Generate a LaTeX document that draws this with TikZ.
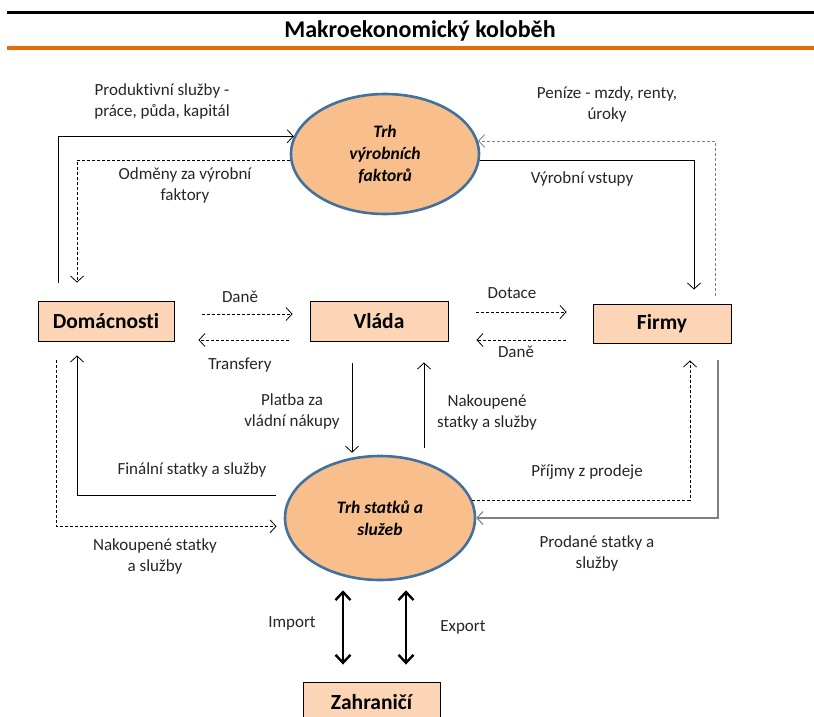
\documentclass[tikz,border=0pt]{standalone}
\usepackage{fontspec}
\setmainfont[Ligatures=NoCommon]{Carlito}
\usepackage{tikz}
\usetikzlibrary{arrows,arrows.meta,positioning,shapes.geometric}
\definecolor{boxfill}{HTML}{FBD5B5}
\definecolor{trhfill}{HTML}{F8BE8C}
\definecolor{trhline}{HTML}{41719C}
\definecolor{rulecol}{HTML}{E36C09}

\tikzset{
	box/.style={draw=black, fill=boxfill, line width=0.9pt, minimum width=136pt, minimum height=40pt, inner sep=0pt, font=\fontsize{21.5}{23}\selectfont\bfseries},
	trh/.style={ellipse, draw=trhline, fill=trhfill, line width=2.6pt, inner sep=0pt, align=center, font=\fontsize{17.5}{22}\selectfont\bfseries\itshape},
	lbl/.style={align=center, inner sep=0pt, text=black!85, font=\fontsize{17}{21}\selectfont},
	tok/.style={-{Straight Barb[length=6pt,width=13pt]}, line width=0.8pt},
	pen/.style={tok, dash pattern=on 3pt off 2pt},
	vel/.style={{Straight Barb[length=8pt,width=15pt]}-{Straight Barb[length=8pt,width=15pt]}, line width=2.4pt}
}

\begin{document}
\begin{tikzpicture}[x=1pt,y=-1pt]
	\useasboundingbox (0,0) rectangle (814,717);
	\draw[line width=3pt] (7,13) -- (814,13);
	\node[font=\fontsize{24}{26}\selectfont\bfseries] (nadpis) at (420,31) {Makroekonomický koloběh};
	\draw[rulecol, line width=4pt] (7,48) -- (814,48);

	\node[trh, minimum width=188pt, minimum height=120pt] (trhf) at (385,154) {Trh\\výrobních\\faktorů};
	\node[trh, minimum width=190pt, minimum height=124pt] (trhs) at (380,518) {Trh statků a\\služeb};
	\node[box] (dom) at (106,321) {Domácnosti};
	\node[box, minimum width=138pt] (vlada) at (379,321) {Vláda};
	\node[box, minimum width=138pt, minimum height=39pt] (firmy) at (662,323.5) {Firmy};
	\node[box, minimum width=137pt] (zahr) at (371.5,702) {Zahraničí};

	% trh vyrobnich faktoru
	\draw[tok, shorten <=18pt] ([xshift=-48pt]dom.north) |- (trhf.169);
	\draw[pen, shorten >=18pt] (trhf.184) -| ([xshift=-29pt]dom.north);
	\draw[pen, gray, shorten <=8pt] ([xshift=53pt]firmy.north) |- (trhf.8);
	\draw[tok, shorten >=14pt] (trhf.356) -| ([xshift=32pt]firmy.north);
	\node[lbl] (l-prod) at (162,101) {Produktivní služby -\\práce, půda, kapitál};
	\node[lbl] (l-odm) at (185,185) {Odměny za výrobní\\faktory};
	\node[lbl] (l-pen) at (607,104) {Peníze - mzdy, renty,\\úroky};
	\node[lbl] (l-vstup) at (582,179) {Výrobní vstupy};

	% vlada
	\draw[pen, shorten <=28pt, shorten >=17pt] ([yshift=7pt]dom.east) -- ([yshift=7pt]vlada.west);
	\draw[pen, shorten <=21pt, shorten >=24pt] ([yshift=-19pt]vlada.west) -- ([yshift=-19pt]dom.east);
	\draw[pen, shorten <=28pt, shorten >=26pt] ([yshift=9pt]vlada.east) -- ([yshift=9pt]vlada.east -| firmy.west);
	\draw[pen, shorten <=27pt, shorten >=28pt] ([yshift=-19pt]vlada.east -| firmy.west) -- ([yshift=-19pt]vlada.east);
	\draw[tok, shorten <=22pt, shorten >=2pt] ([xshift=-27pt]vlada.south) -- ([xshift=-27pt]vlada.south |- trhs.north);
	\draw[tok, shorten <=7pt, shorten >=21pt] ([xshift=45pt]vlada.south |- trhs.north) -- ([xshift=45pt]vlada.south);
	\node[lbl] (l-dan1) at (240,297) {Daně};
	\node[lbl] (l-transf) at (240,365) {Transfery};
	\node[lbl] (l-dotace) at (512,293) {Dotace};
	\node[lbl] (l-dan2) at (516,352) {Daně};
	\node[lbl] (l-platba) at (292,411) {Platba za\\vládní nákupy};
	\node[lbl] (l-nak1) at (487,412) {Nakoupené\\statky a služby};

	% trh statku a sluzeb
	\draw[tok, shorten <=14pt, shorten >=14pt] (trhs.166) -| ([xshift=-29pt]dom.south);
	\draw[pen, shorten <=19pt, shorten >=8pt] ([xshift=-50pt]dom.south) |- (trhs.185);
	\draw[pen, shorten >=17pt] (trhs.11) -| ([xshift=28pt]firmy.south);
	\draw[tok, gray, line width=1.1pt, shorten <=17pt] ([xshift=56pt]firmy.south) |- (trhs.east);
	\node[lbl] (l-fin) at (192,470) {Finální statky a služby};
	\node[lbl] (l-nak2) at (155,556) {Nakoupené statky\\a služby};
	\node[lbl] (l-prij) at (587,472) {Příjmy z prodeje};
	\node[lbl] (l-prod2) at (597,553) {Prodané statky a\\služby};

	% zahranici
	\draw[vel, shorten <=9pt, shorten >=17pt] ([xshift=-37pt]trhs.south) -- ([xshift=-37pt]trhs.south |- zahr.north);
	\draw[vel, shorten <=9pt, shorten >=17pt] ([xshift=26pt]trhs.south) -- ([xshift=26pt]trhs.south |- zahr.north);
	\node[lbl] (l-imp) at (292,623) {Import};
	\node[lbl] (l-exp) at (463,627) {Export};
\end{tikzpicture}
\end{document}
